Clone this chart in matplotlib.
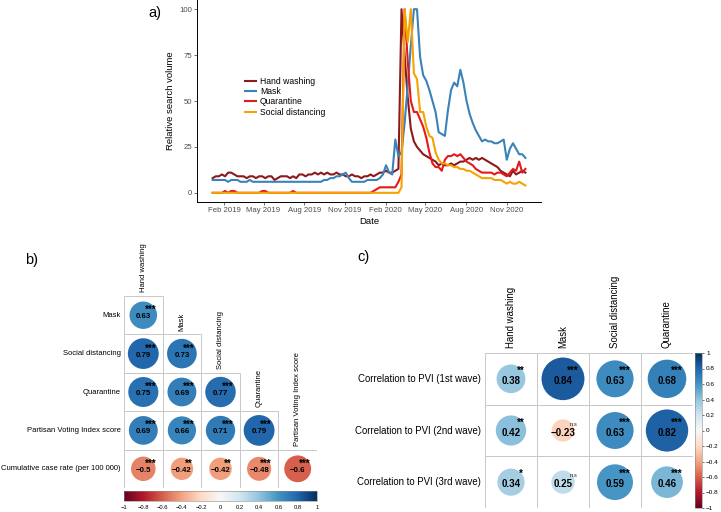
import numpy as np
import pandas as pd
import matplotlib
matplotlib.use('Agg')
import matplotlib.pyplot as plt
import matplotlib.dates as mdates
from matplotlib.patches import Circle, Rectangle
from matplotlib.cm import ScalarMappable
from matplotlib.colors import Normalize

plt.rcParams['font.family'] = ['Liberation Sans', 'DejaVu Sans']

# ---------------- data: panel a (weekly relative search volume) ----------------
weeks = pd.date_range('2019-01-06', periods=102, freq='7D')

hand_washing = [8, 9, 9, 10, 9, 11, 11, 10, 9, 9,
                9, 8, 9, 9, 8, 9, 9, 8, 9, 9,
                7, 8, 9, 9, 9, 8, 9, 8, 10, 10,
                9, 10, 10, 11, 10, 11, 10, 11, 10, 10,
                11, 10, 10, 9, 9, 10, 9, 9, 8, 9,
                9, 10, 9, 10, 11, 11, 12, 11, 11, 12,
                13, 100, 75, 52, 35, 28, 25, 23, 21, 20,
                19, 18, 17, 15, 16, 15, 15, 16, 15, 16,
                17, 17, 18, 19, 18, 19, 18, 19, 18, 17,
                16, 15, 14, 12, 11, 10, 9, 12, 10, 11,
                12, 11]
mask = [7, 7, 7, 7, 7, 6, 7, 7, 7, 6,
        6, 6, 7, 6, 6, 6, 6, 6, 6, 6,
        6, 6, 6, 6, 6, 6, 6, 6, 6, 6,
        6, 6, 6, 6, 6, 6, 7, 7, 8, 8,
        9, 9, 10, 11, 8, 6, 6, 6, 6, 6,
        7, 7, 7, 7, 8, 10, 15, 11, 10, 29,
        20, 22, 38, 58, 80, 100, 100, 74, 64, 61,
        56, 50, 44, 33, 32, 31, 45, 56, 60, 58,
        67, 60, 50, 43, 38, 34, 31, 28, 29, 28,
        28, 27, 27, 28, 29, 18, 24, 27, 24, 21,
        21, 19]
quarantine = [0, 0, 0, 0, 1, 0, 1, 1, 0, 0,
              0, 0, 0, 0, 0, 0, 1, 1, 0, 0,
              0, 0, 0, 0, 0, 0, 1, 0, 0, 0,
              0, 0, 0, 0, 0, 0, 0, 0, 0, 0,
              0, 0, 0, 0, 0, 0, 0, 0, 0, 0,
              0, 0, 1, 2, 3, 3, 3, 3, 3, 3,
              6, 10, 100, 72, 50, 44, 44, 40, 36, 30,
              22, 16, 14, 14, 12, 18, 20, 20, 21, 20,
              21, 19, 17, 16, 15, 13, 12, 11, 11, 11,
              11, 10, 11, 11, 10, 9, 11, 13, 12, 17,
              11, 13]
social_distancing = [0] * 61 + [3, 100, 82, 100, 65, 62, 44, 44, 36,
                                31, 30, 22, 18, 16, 16, 15, 15, 14, 14,
                                13, 13, 12, 12, 11, 10, 9, 8, 8, 8,
                                8, 7, 7, 7, 6, 5, 6, 5, 5, 6,
                                5, 4]

# ---------------- data: panel b (correlation matrix, lower triangle) ----------------
b_rows = ['Mask', 'Social distancing', 'Quarantine', 'Partisan Voting Index score',
          'Cumulative case rate (per 100 000)']
b_cols = ['Hand washing', 'Mask', 'Social distancing', 'Quarantine',
          'Partisan Voting Index score']
b_r = [[0.63],
       [0.79, 0.73],
       [0.75, 0.69, 0.77],
       [0.69, 0.66, 0.71, 0.79],
       [-0.5, -0.42, -0.42, -0.48, -0.6]]
b_sig = [['***'],
         ['***', '***'],
         ['***', '***', '***'],
         ['***', '***', '***', '***'],
         ['***', '**', '**', '***', '***']]

# ---------------- data: panel c (correlation to PVI by wave) ----------------
c_rows = ['Correlation to PVI (1st wave)', 'Correlation to PVI (2nd wave)',
          'Correlation to PVI (3rd wave)']
c_cols = ['Hand washing', 'Mask', 'Social distancing', 'Quarantine']
c_r = [[0.38, 0.84, 0.63, 0.68],
       [0.42, -0.23, 0.63, 0.82],
       [0.34, 0.25, 0.59, 0.46]]
c_sig = [['**', '***', '***', '***'],
         ['**', 'n.s', '***', '***'],
         ['*', 'n.s', '***', '***']]

cbar_ticks = [-1, -0.8, -0.6, -0.4, -0.2, 0, 0.2, 0.4, 0.6, 0.8, 1]

cmap = plt.get_cmap('RdBu')
norm = Normalize(-1, 1)


def fmt(v):
    return f'{v:g}'.replace('-', '\u2212')


W, H = 721, 512
fig = plt.figure(figsize=(W / 100, H / 100), dpi=100)


def px_axes(x0, y0, x1, y1):
    return fig.add_axes([x0 / W, 1 - y1 / H, (x1 - x0) / W, (y1 - y0) / H])


# ---------------- panel a ----------------
ax = px_axes(197, 0, 541, 202)
series = [('Hand washing', hand_washing, '#8B1A1A'),
          ('Mask', mask, '#3B82B8'),
          ('Quarantine', quarantine, '#E31A1C'),
          ('Social distancing', social_distancing, '#F5A300')]
for name, vals, col in series:
    ax.plot(weeks, vals, color=col, lw=1.5, label=name)
span = weeks[-1] - weeks[0]
ax.set_xlim(weeks[0] - span * 0.05, weeks[-1] + span * 0.05)
ax.set_ylim(-5, 105)
ax.set_yticks([0, 25, 50, 75, 100])
ax.xaxis.set_major_locator(mdates.MonthLocator(bymonth=[2, 5, 8, 11]))
ax.xaxis.set_major_formatter(mdates.DateFormatter('%b %Y'))
for s in ['top', 'right']:
    ax.spines[s].set_visible(False)
for s in ['left', 'bottom']:
    ax.spines[s].set_linewidth(0.7)
ax.tick_params(length=2, width=0.5, color='#333333', labelcolor='#4D4D4D',
               labelsize=5.6, pad=1.5)
ax.set_xlabel('Date', fontsize=6.8, labelpad=2)
ax.set_ylabel('Relative search volume', fontsize=6.8, labelpad=3)
ax.legend(loc='upper left', bbox_to_anchor=(0.14, 0.62), frameon=False, fontsize=6.2,
          handlelength=1.3, handletextpad=0.4, labelspacing=0.15, borderpad=0,
          borderaxespad=0)

fig.text(148 / W, 1 - 13 / H, 'a)', fontsize=10.5, va='center', ha='left')
fig.text(25 / W, 1 - 260 / H, 'b)', fontsize=10.5, va='center', ha='left')
fig.text(357 / W, 1 - 257 / H, 'c)', fontsize=10.5, va='center', ha='left')

grid_col = '#C8C8C8'


def corr_cell(a, i, j, r, sig, vsize, ssize, cell_px):
    a.add_patch(Rectangle((j, i), 1, 1, fill=False, ec=grid_col, lw=0.7))
    a.add_patch(Circle((j + 0.5, i + 0.5), 0.45 * np.sqrt(abs(r)),
                       fc=cmap(norm(r)), ec='none'))
    a.text(j + 0.5, i + 0.54, fmt(r), ha='center', va='center', fontsize=vsize,
           fontweight='bold', color='black')
    if sig == 'n.s':
        a.text(j + 0.62, i + 0.38, sig, ha='left', va='center', fontsize=4.2,
               color='#222222')
    else:
        # asterisks sit high in the em box, so drop the anchor a bit
        a.text(j + 0.68, i + 0.29 + 0.3 * ssize * 1.39 / cell_px, sig, ha='center',
               va='center', fontsize=ssize, fontweight='bold', color='black')


# ---------------- panel b ----------------
axb = px_axes(124, 296, 317, 488)
axb.set_xlim(0, 5)
axb.set_ylim(5, 0)
axb.axis('off')
for i, row in enumerate(b_r):
    for j, r in enumerate(row):
        corr_cell(axb, i, j, r, b_sig[i][j], 5.7, 7, 38.5)
for i, name in enumerate(b_rows):
    axb.text(-0.08, i + 0.5, name, ha='right', va='center', fontsize=5.5)
for j, name in enumerate(b_cols):
    axb.text(j + 0.5, j - 0.1, name, ha='center', va='bottom', rotation=90, fontsize=5.5)

caxb = px_axes(124, 491, 317, 501)
cb = fig.colorbar(ScalarMappable(norm, cmap), cax=caxb, orientation='horizontal',
                  ticks=cbar_ticks)
cb.ax.set_xticklabels([fmt(t) for t in cbar_ticks])
cb.ax.tick_params(labelsize=4.2, length=0, pad=3)
cb.outline.set_linewidth(0.4)
cb.outline.set_edgecolor('#888888')

# ---------------- panel c ----------------
axc = px_axes(485, 353, 693, 508)
axc.set_xlim(0, 4)
axc.set_ylim(3, 0)
axc.axis('off')
for i, row in enumerate(c_r):
    for j, r in enumerate(row):
        corr_cell(axc, i, j, r, c_sig[i][j], 7, 7, 52)
for i, name in enumerate(c_rows):
    axc.text(-0.08, i + 0.5, name, ha='right', va='center', fontsize=6.9)
for j, name in enumerate(c_cols):
    axc.text(j + 0.5, -0.1, name, ha='center', va='bottom', rotation=90, fontsize=6.9)

caxc = px_axes(695, 353, 702, 508)
cb2 = fig.colorbar(ScalarMappable(norm, cmap), cax=caxc, orientation='vertical',
                   ticks=cbar_ticks)
cb2.ax.set_yticklabels([fmt(t) for t in cbar_ticks])
cb2.ax.tick_params(labelsize=4.6, length=1.5, width=0.4, pad=1.5)
cb2.outline.set_linewidth(0.4)
cb2.outline.set_edgecolor('#888888')

fig.savefig('out.png', dpi=100)
